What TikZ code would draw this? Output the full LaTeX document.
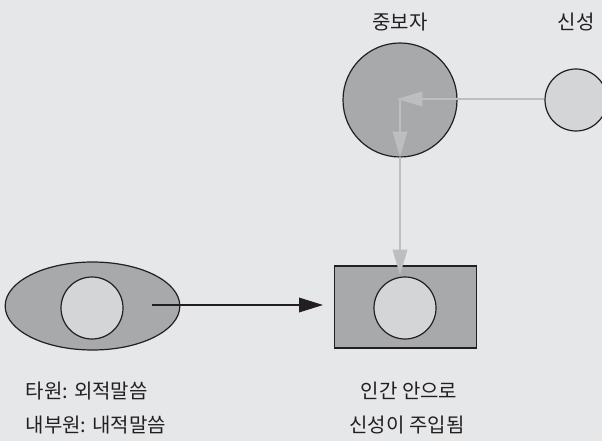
\documentclass[tikz,border=0pt]{standalone}
\usepackage{fontspec}
\newfontfamily\kr{Noto Sans CJK KR}
\usetikzlibrary{arrows.meta,shapes.geometric}
\definecolor{bg}{HTML}{E6E7E9}
\definecolor{dark}{HTML}{A8A9AB}
\definecolor{light}{HTML}{D4D5D7}
\definecolor{garrow}{HTML}{BDBEC0}
\definecolor{ink}{HTML}{231F20}
\begin{document}
\begin{tikzpicture}[x=0.75pt,y=-0.75pt,
  shp/.style={draw=ink,line width=0.9pt,inner sep=0pt},
  darkcirc/.style={shp,circle,fill=dark},
  lightcirc/.style={shp,circle,fill=light,minimum size=46.5pt},
  glink/.style={draw=garrow,line width=1pt,-{Triangle[length=19pt,width=11pt,fill=garrow]}},
  blink/.style={draw=ink,line width=1pt,-{Triangle[length=18pt,width=11pt]}},
  lbl/.style={font=\kr\fontsize{15pt}{18pt}\selectfont,text=ink}]
\fill[bg] (0,0) rectangle (602,441);
\useasboundingbox (0,0) rectangle (602,441);
% shapes
\node[darkcirc,minimum size=85.5pt] (med) at (400,100) {};
\node[lightcirc] (div) at (576,100) {};
\node[shp,ellipse,fill=dark,minimum width=131pt,minimum height=66pt] (ell) at (92.5,306) {};
\node[lightcirc] (inE) at (92,308) {};
\node[shp,rectangle,fill=dark,minimum width=107pt,minimum height=61.5pt] (box) at (405.5,307) {};
\node[lightcirc] (inB) at (405,308) {};
% labels
\node[lbl] (tMed) at (400,22) {중보자};
\node[lbl] (tDiv) at (576,22) {신성};
\node[lbl,anchor=west] (tA) at (21,391) {타원: 외적말씀};
\node[lbl,anchor=west] (tB) at (21,425) {내부원: 내적말씀};
\node[lbl] (tC) at (409,391) {인간 안으로};
\node[lbl] (tD) at (407,425) {신성이 주입됨};
% connectors
\coordinate (mc) at (397,99);
\coordinate (mv) at (400,99);
\coordinate (mb) at (400,157);
\coordinate (bt) at (400,275);
\coordinate (es) at (152,305);
\coordinate (be) at (323,305);
\draw[glink] (div.west |- mc) -- (mc);
\draw[glink] (mv) -- (mb);
\draw[glink] (mb) -- (bt);
\draw[blink] (es) -- (be);
\end{tikzpicture}
\end{document}
